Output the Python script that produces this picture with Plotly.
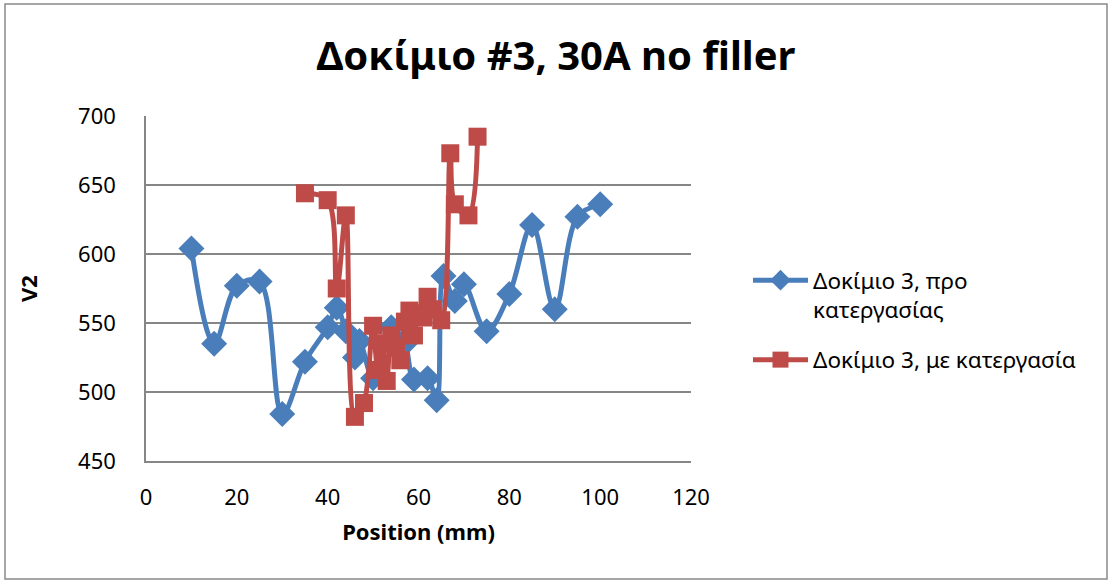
import plotly.graph_objects as go

# Specimen 3, before machining (position in mm, V2)
before_x = [10, 15, 20, 25, 30, 35, 40, 42, 44, 46, 47, 50, 54, 57, 59, 62, 64, 65.5, 68, 70, 75, 80, 85, 90, 95, 100]
before_y = [604, 535, 577, 580, 484, 522, 547, 561, 544, 525, 537, 510, 547, 535, 509, 510, 494, 584, 566, 578, 544, 571, 621, 560, 627, 636]

# Specimen 3, after machining
after_x = [35, 40, 42, 44, 46, 48, 50, 51, 52, 53, 54, 55, 56, 57, 58, 59, 60, 61, 62, 63, 65, 67, 68, 71, 73]
after_y = [644, 639, 575, 628, 482, 492, 548, 516, 535, 508, 541, 532, 523, 551, 559, 541, 557, 554, 569, 560, 552, 673, 636, 628, 685]

names = ["Δοκίμιο 3, προ<br>κατεργασίας", "Δοκίμιο 3, με κατεργασία"]
title_text = "Δοκίμιο #3, 30A no filler"
x_title = "Position (mm)"
y_title = "V2"

BLUE = "#4a7ebb"
RED = "#be4b48"
GRID = "#868686"
FONT = "Noto Sans, Open Sans, DejaVu Sans, sans-serif"

fig = go.Figure()
fig.add_trace(go.Scatter(
    x=before_x, y=before_y, name=names[0], mode="lines+markers", legendgroup="a",
    line=dict(color=BLUE, width=5, shape="spline", smoothing=1.0),
    marker=dict(symbol="diamond", size=20, color=BLUE),
))
fig.add_trace(go.Scatter(
    x=after_x, y=after_y, name=names[1], mode="lines+markers", legendgroup="b",
    line=dict(color=RED, width=5, shape="spline", smoothing=1.0),
    marker=dict(symbol="square", size=18, color=RED),
))

# plot area: x 146..691, y 116..461 px in a 1112x583 page
L, R, T, B = 146, 691, 116, 461
W, H = 1112, 583
pw, ph = R - L, B - T

def px(x):
    return (x - L) / pw

def py(y):
    return (B - y) / ph

fig.update_layout(
    width=W, height=H,
    margin=dict(l=L, r=W - R, t=T, b=H - B, pad=0),
    paper_bgcolor="white", plot_bgcolor="white",
    font=dict(family=FONT, color="black"),
    title=dict(text="<b>" + title_text + "</b>", x=0.5, xref="container",
               y=1 - 56 / H, yref="container", yanchor="middle", xanchor="center",
               font=dict(size=40, family=FONT)),
    showlegend=True,
    legend=dict(x=px(748), y=py(259), xanchor="left", yanchor="top",
                font=dict(size=22.5, family=FONT), itemwidth=55, valign="top",
                traceorder="grouped", tracegroupgap=18, bgcolor="rgba(0,0,0,0)"),
    xaxis=dict(range=[0, 120], dtick=20, tick0=0, showgrid=False,
               showline=True, linecolor=GRID, linewidth=1.5, zeroline=False,
               ticks="", ticklabelstandoff=16,
               tickfont=dict(size=22, family=FONT),
               title=dict(text="<b>" + x_title + "</b>", standoff=14,
                          font=dict(size=22, family=FONT))),
    yaxis=dict(range=[450, 700], dtick=50, tick0=450, showgrid=True,
               gridcolor=GRID, gridwidth=1.5,
               showline=True, linecolor=GRID, linewidth=1.5, zeroline=False,
               ticks="", ticklabelstandoff=24,
               tickfont=dict(size=22, family=FONT),
               title=dict(text="<b>" + y_title + "</b>", standoff=34,
                          font=dict(size=22, family=FONT))),
)

# chart-area outline
fig.add_shape(type="rect", xref="paper", yref="paper",
              x0=px(5), x1=px(1107), y0=py(579), y1=py(4),
              line=dict(color="#898989", width=1.5), fillcolor="rgba(0,0,0,0)",
              layer="below")

fig.write_html("out.html")
